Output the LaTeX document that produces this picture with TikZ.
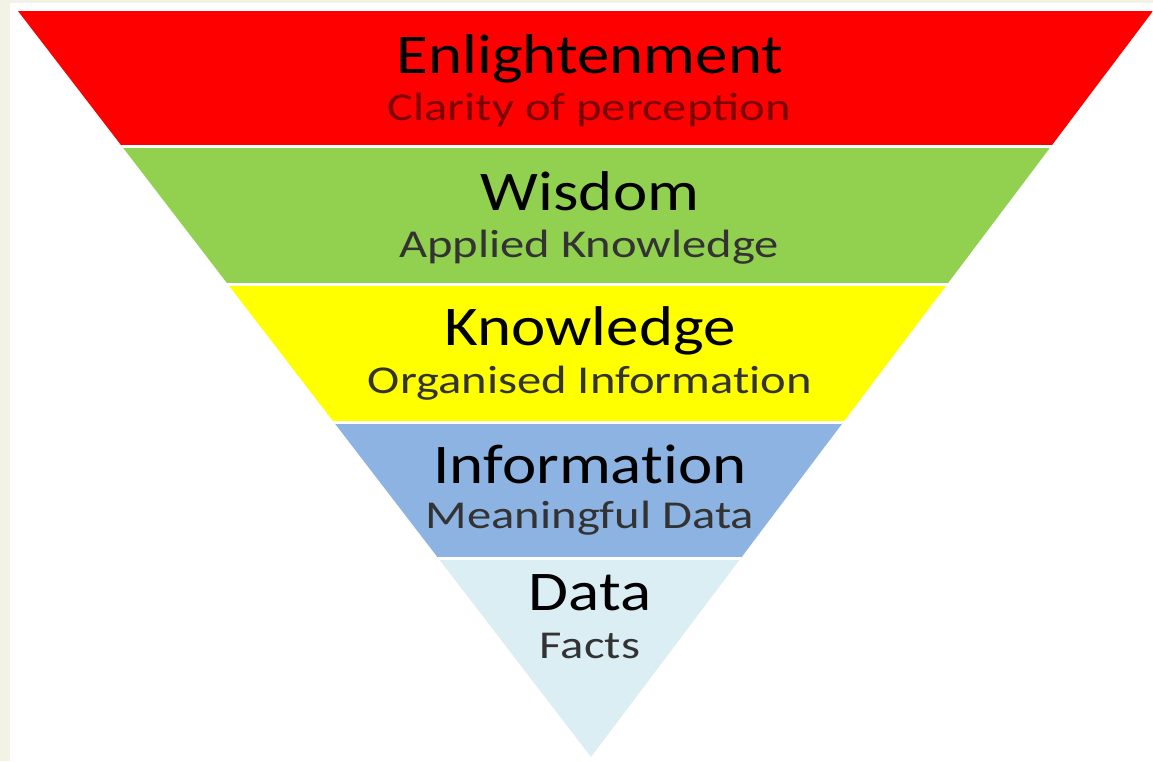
\documentclass[tikz,border=0pt]{standalone}
\usepackage{fontspec}
\setmainfont{Carlito}[FakeStretch=1.16]
\newfontfamily\subfont{Carlito}[FakeStretch=1.23]
\newcommand{\nolig}{\kern0pt }
\definecolor{enlred}{HTML}{FF0000}
\definecolor{wisgreen}{HTML}{92D050}
\definecolor{knoyellow}{HTML}{FFFF00}
\definecolor{infblue}{HTML}{8DB3E2}
\definecolor{datblue}{HTML}{DBEEF4}
\definecolor{framebg}{HTML}{F2F3E4}
\definecolor{subred}{HTML}{7A0000}
\tikzset{
  level/.style={anchor=base, inner sep=0pt, font=\fontsize{56}{60}\selectfont},
  sublevel/.style={anchor=base, inner sep=0pt, text=black!80, font=\subfont\fontsize{39.5}{42}\selectfont},
  gap/.style={white, line width=3pt}
}
\begin{document}
\begin{tikzpicture}[x=1pt,y=-1pt]
			\useasboundingbox (0,0) rectangle (1153,761);
			\fill[framebg] (0,0) rectangle (1153,761);
			\fill[white] (10,3) rectangle (1153,761);
			% the inverted pyramid
			\begin{scope}
				\clip (18,11) --(1153,11) --(591,757) --cycle;
				\fill[enlred] (0,11) rectangle (1153,146);
				\fill[wisgreen] (0,146) rectangle (1153,284);
				\fill[knoyellow] (0,284) rectangle (1153,422);
				\fill[infblue] (0,422) rectangle (1153,558);
				\fill[datblue] (0,558) rectangle (1153,761);
				\draw[gap] (0,146.5) --(1153,146.5);
				\draw[gap] (0,284.5) --(1153,284.5);
				\draw[gap] (0,422) --(1153,422);
				\draw[gap] (0,558.5) --(1153,558.5);
			\end{scope}
			\node[level] (enl) at (590,73) {Enlightenment};
			\node[sublevel, text=subred] (enlsub) at (589,120) {Clarity of perception};
			\node[level] (wis) at (590,210) {Wisdom};
			\node[sublevel] (wissub) at (589,257) {Applied Knowledge};
			\node[level] (kno) at (590,345) {Knowledge};
			\node[sublevel] (knosub) at (590,393) {Organised Informat\nolig ion};
			\node[level] (inf) at (590,483) {Informat\nolig ion};
			\node[sublevel] (infsub) at (590,528) {Meaningful Data};
			\node[level] (dat) at (590,610) {Data};
			\node[sublevel] (datsub) at (590,658) {Facts};
		\end{tikzpicture}
\end{document}
